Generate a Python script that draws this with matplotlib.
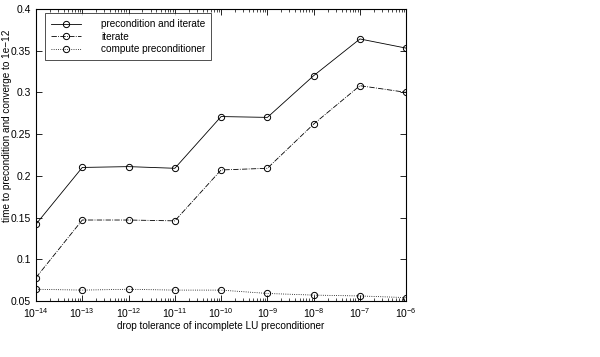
import matplotlib
matplotlib.use('Agg')
import matplotlib.pyplot as plt
from matplotlib.ticker import LogLocator, FuncFormatter, NullFormatter
import numpy as np

plt.rcParams['font.family'] = ['Liberation Sans', 'DejaVu Sans']
plt.rcParams['mathtext.default'] = 'regular'

# drop tolerances and timings
tol = [1e-14, 1e-13, 1e-12, 1e-11, 1e-10, 1e-9, 1e-8, 1e-7, 1e-6]
prec_and_iter = [0.142, 0.210, 0.211, 0.209, 0.271, 0.270, 0.320, 0.364, 0.353]
iterate = [0.078, 0.147, 0.147, 0.146, 0.207, 0.209, 0.262, 0.308, 0.300]
compute_prec = [0.064, 0.063, 0.064, 0.063, 0.063, 0.059, 0.057, 0.056, 0.054]
yticks = [0.05, 0.1, 0.15, 0.2, 0.25, 0.3, 0.35, 0.4]

fig = plt.figure(figsize=(6, 3.57), dpi=100)
ax = fig.add_axes([0.06, 0.157, 0.617, 0.818])

style = dict(color='black', lw=0.6, marker='o', ms=4.5, mfc='none', mew=0.7)
ax.plot(tol, prec_and_iter, ls='-', label='precondition and iterate', **style)
ax.plot(tol, iterate, ls='-.', label='iterate', **style)
ax.plot(tol, compute_prec, ls=':', label='compute preconditioner', **style)

ax.set_xscale('log')
ax.set_xlim(1e-14, 1e-6)
ax.set_ylim(0.05, 0.4)
ax.set_yticks(yticks)
ax.yaxis.set_major_formatter(FuncFormatter(lambda v, p: '%g' % v))
ax.xaxis.set_major_locator(LogLocator(base=10, numticks=20))
ax.xaxis.set_minor_locator(LogLocator(base=10, subs=np.arange(2, 10), numticks=20))
ax.xaxis.set_minor_formatter(NullFormatter())
ax.xaxis.set_major_formatter(FuncFormatter(lambda v, p: r'$10^{%d}$' % round(np.log10(v))))

ax.tick_params(which='both', direction='in', top=True, right=True, labelsize=7.5)
ax.tick_params(which='major', length=4, width=0.6)
ax.tick_params(which='minor', length=2, width=0.5)
for s in ax.spines.values():
    s.set_linewidth(0.8)

ax.set_xlabel('drop tolerance of incomplete LU preconditioner', fontsize=7.2, labelpad=1)
ax.set_ylabel('time to precondition and converge to 1e\u221212', fontsize=7.2, labelpad=2)
ax.yaxis.set_label_coords(-0.065, 0.6)

leg = ax.legend(loc='upper left', bbox_to_anchor=(0.024, 0.986), borderaxespad=0,
                fontsize=7.2, frameon=True, fancybox=False, edgecolor='black',
                handlelength=3.0, borderpad=0.6, labelspacing=0.27,
                handletextpad=2.0)
leg.get_frame().set_linewidth(0.6)

fig.savefig('out.png', dpi=100)
